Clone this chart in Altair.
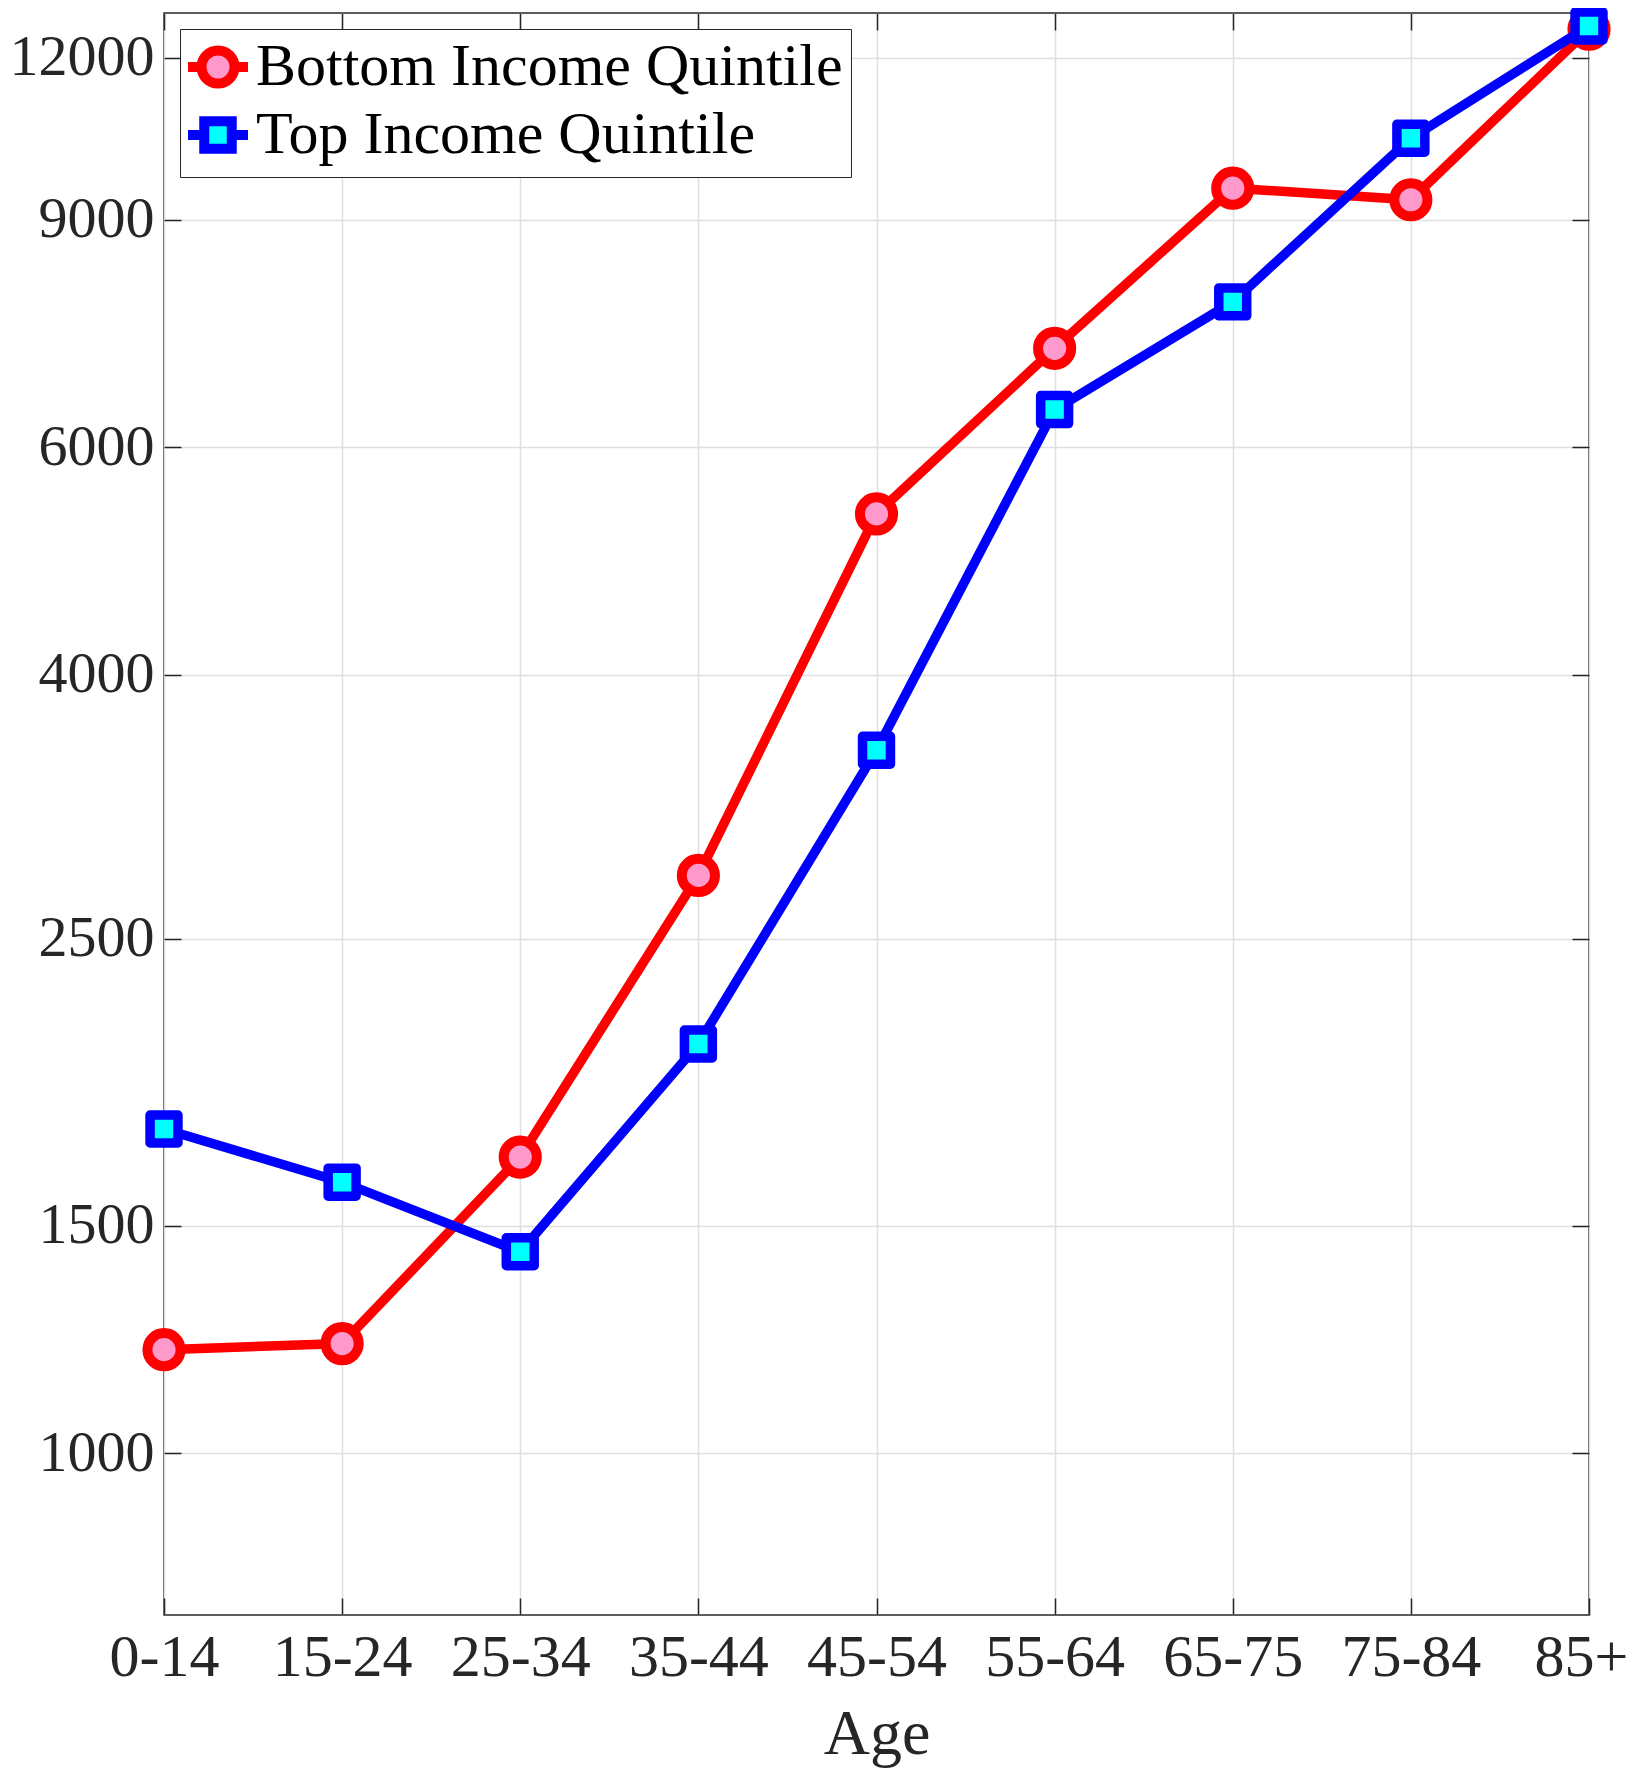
import altair as alt
import pandas as pd

ages = ["0-14", "15-24", "25-34", "35-44", "45-54", "55-64", "65-75", "75-84", "85+"]
bottom_quintile = [1203, 1216, 1695, 2799, 5328, 7155, 9517, 9322, 12630]
top_quintile = [1782, 1621, 1432, 2073, 3498, 6416, 7772, 10402, 12703]
series_names = ["Bottom Income Quintile", "Top Income Quintile"]
y_ticks = [1000, 1500, 2500, 4000, 6000, 9000, 12000]

rows = []
for a, b, t in zip(ages, bottom_quintile, top_quintile):
    rows.append({"age": a, "value": b, "series": series_names[0]})
    rows.append({"age": a, "value": t, "series": series_names[1]})
df = pd.DataFrame(rows)

W, H = 1425, 1602
FONT = "Liberation Serif"
AX = "#262626"
GRID = "#dfdfdf"

xscale = alt.Scale(type="point", domain=ages, padding=0)
yscale = alt.Scale(type="log", domain=[750, 13000])

x_main = alt.X(
    "age:N", scale=xscale, title="Age",
    axis=alt.Axis(orient="bottom", grid=True, gridColor=GRID, gridWidth=1.5,
                  ticks=False, tickSize=0, domain=False, labelFont=FONT,
                  labelFontSize=60, labelColor=AX, labelPadding=13, labelAngle=0,
                  labelOffset={"condition": {"test": "datum.label == '85+'", "value": -8},
                               "value": 0},
                  labelOverlap=False, titleFont=FONT, titleFontSize=64,
                  titleColor=AX, titleFontWeight="normal", titlePadding=15),
)
y_main = alt.Y(
    "value:Q", scale=yscale, title=None,
    axis=alt.Axis(orient="left", values=y_ticks, format="d", grid=True,
                  gridColor=GRID, gridWidth=1.5, ticks=False, tickSize=0,
                  domain=False, labelFont=FONT, labelFontSize=58, labelColor=AX,
                  labelPadding=10),
)
x_none = alt.X("age:N", scale=xscale, axis=None)
y_none = alt.Y("value:Q", scale=yscale, axis=None)

base = alt.Chart(df)

red_line = base.transform_filter(alt.datum.series == series_names[0]).mark_line(
    color="#FF0000", strokeWidth=9.5).encode(x=x_main, y=y_main)
red_pts = base.transform_filter(alt.datum.series == series_names[0]).mark_point(
    shape="circle", filled=True, fill="#FF99CC", stroke="#FF0000",
    strokeWidth=10, size=1100, opacity=1).encode(x=x_none, y=y_none)
blue_line = base.transform_filter(alt.datum.series == series_names[1]).mark_line(
    color="#0000FF", strokeWidth=9.5).encode(x=x_none, y=y_none)
blue_pts = base.transform_filter(alt.datum.series == series_names[1]).mark_point(
    shape="square", filled=True, fill="#00FFFF", stroke="#0000FF",
    strokeWidth=9.5, size=780, opacity=1, strokeJoin="round").encode(x=x_none, y=y_none)

circle_path = "M-1.2,0L-0.66,0M0.66,0L1.2,0M0.66,0A0.66,0.66,0,1,1,-0.66,0A0.66,0.66,0,1,1,0.66,0Z"
square_path = "M-1.2,0L-0.55,0M0.55,0L1.2,0M-0.55,-0.55L0.55,-0.55L0.55,0.55L-0.55,0.55Z"

legend_layer = base.transform_filter("false").mark_point(
    filled=True, opacity=1, strokeWidth=10).encode(
    x=alt.X("age:N", scale=xscale, title=None,
            axis=alt.Axis(orient="top", labels=False, ticks=False, tickSize=0,
                          domain=False, grid=True, gridColor=AX, gridWidth=1.5,
                          gridDash=[17, H - 34], minExtent=0, maxExtent=0,
                          labelPadding=0)),
    y=alt.Y("value:Q", scale=yscale, title=None,
            axis=alt.Axis(orient="right", values=y_ticks, labels=False, ticks=False,
                          tickSize=0, domain=False, grid=True, gridColor=AX,
                          gridWidth=1.5, gridDash=[17, W - 34], minExtent=0,
                          maxExtent=0, labelPadding=0)),
    stroke=alt.Stroke("series:N", title=None,
                      scale=alt.Scale(domain=series_names, range=["#FF0000", "#0000FF"])),
    fill=alt.Fill("series:N", title=None,
                  scale=alt.Scale(domain=series_names, range=["#FF99CC", "#00FFFF"])),
    shape=alt.Shape("series:N", title=None,
                    scale=alt.Scale(domain=series_names, range=[circle_path, square_path])),
)

chart = alt.layer(red_line, red_pts, blue_line, blue_pts, legend_layer).resolve_axis(
    x="independent", y="independent"
).properties(
    width=W, height=H, background="white",
    autosize=alt.AutoSizeParams(type="none"),
    padding={"left": 156, "top": 5, "right": 41, "bottom": 154},
).configure_view(
    stroke=AX, strokeWidth=1.5
).configure_legend(
    orient="top-left", offset=16, padding=8, rowPadding=-3, symbolSize=2500,
    symbolStrokeWidth=10, symbolOpacity=1, labelFont=FONT, labelFontSize=60,
    labelColor="#000000", labelOffset=8, labelLimit=1000, strokeColor=AX,
    fillColor="white", cornerRadius=0,
)

chart.save("out.html", embed_options={"renderer": "svg", "actions": False})
